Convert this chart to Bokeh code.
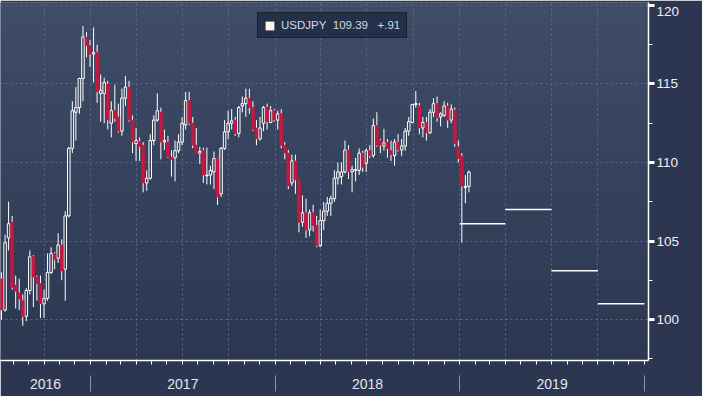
import numpy as np
import pandas as pd
from bokeh.plotting import figure
from bokeh.models import (Range1d, LinearAxis, FixedTicker, SingleIntervalTicker,
                          Grid, Label, Legend, LegendItem)
from bokeh.embed import file_html
from bokeh.resources import INLINE

# ---------------- data ----------------
week_start = pd.date_range("2016-07-04", periods=133, freq="7D")

opens = [102.6, 100.6, 105.2, 106.2, 102.2, 101.7, 101.2, 100.2, 101.85, 104.0,
         102.7, 102.3, 101.0, 101.35, 103.0, 104.2, 103.9, 104.75, 103.2, 106.6,
         110.9, 113.2, 113.5, 115.35, 118.0, 117.45, 116.9, 117.0, 114.4, 114.4,
         115.0, 112.5, 113.3, 112.9, 112.0, 114.1, 114.8, 112.7, 111.2, 111.35,
         111.1, 108.7, 109.0, 111.4, 112.7, 113.2, 111.3, 111.3, 110.35, 110.3,
         110.75, 111.3, 112.4, 113.95, 112.5, 111.1, 110.6, 110.75, 109.15, 109.2,
         109.4, 110.25, 108.0, 110.9, 111.95, 112.5, 112.7, 111.85, 113.6, 113.75,
         114.1, 113.5, 112.2, 111.5, 112.5, 113.5, 112.55, 113.3, 112.7, 113.1,
         111.1, 110.6, 108.7, 110.1, 108.85, 106.2, 106.8, 105.7, 106.8, 106.0,
         104.7, 106.3, 106.9, 107.4, 107.7, 109.0, 109.1, 109.4, 110.8, 109.4,
         109.5, 109.5, 110.6, 109.95, 110.75, 110.45, 112.35, 111.4, 111.05, 111.3,
         110.75, 110.45, 111.3, 110.8, 111.05, 112.0, 112.55, 113.7, 113.6, 112.2,
         112.55, 111.9, 113.2, 113.75, 112.9, 113.0, 113.6, 112.7, 113.35, 111.0,
         110.4, 108.4, 108.48]
highs = [103.0, 105.4, 107.5, 106.6, 102.8, 102.6, 101.6, 102.0, 104.4, 104.1,
         102.8, 102.8, 101.9, 104.2, 104.6, 104.3, 105.5, 105.1, 106.9, 111.0,
         113.9, 114.8, 115.4, 118.7, 118.3, 117.8, 118.6, 117.5, 115.6, 115.4,
         115.2, 113.9, 114.95, 113.75, 114.7, 115.5, 115.2, 113.0, 112.2, 111.6,
         111.3, 109.5, 111.8, 113.0, 114.4, 113.5, 112.1, 111.7, 110.8, 111.4,
         111.8, 112.9, 114.5, 114.5, 112.9, 112.2, 111.0, 110.95, 110.95, 109.8,
         110.7, 110.3, 111.0, 112.7, 113.3, 113.4, 112.9, 113.6, 114.2, 114.7,
         114.7, 113.9, 112.7, 112.9, 113.6, 113.75, 113.6, 113.4, 113.3, 113.4,
         111.3, 110.8, 110.5, 110.5, 108.9, 107.9, 107.7, 107.0, 107.3, 106.6,
         107.0, 107.5, 107.8, 107.9, 109.5, 110.0, 110.0, 111.4, 111.1, 109.8,
         110.3, 110.9, 110.75, 110.9, 111.1, 112.8, 113.2, 111.5, 112.15, 111.5,
         111.4, 111.5, 111.8, 111.5, 112.2, 112.9, 113.7, 114.55, 113.8, 112.9,
         112.9, 113.4, 114.1, 114.2, 113.2, 113.9, 113.8, 113.7, 113.5, 111.4,
         110.6, 109.2, 109.5]
lows = [99.98, 100.5, 104.4, 101.9, 100.7, 100.6, 99.6, 99.9, 101.6, 100.8,
        101.2, 100.1, 100.1, 101.2, 102.9, 103.2, 103.6, 102.5, 101.2, 106.5,
        110.6, 111.4, 113.1, 113.9, 116.7, 116.1, 115.1, 113.8, 112.6, 112.5,
        112.1, 111.6, 112.6, 111.9, 111.7, 113.6, 112.6, 110.6, 110.1, 110.1,
        108.1, 108.2, 108.9, 111.1, 112.6, 110.2, 110.8, 110.3, 109.1, 108.8,
        110.6, 111.1, 112.1, 112.4, 110.9, 110.6, 109.9, 108.7, 108.6, 108.6,
        108.3, 107.3, 107.8, 110.8, 111.5, 112.1, 111.7, 111.6, 113.2, 112.9,
        113.1, 112.0, 111.1, 111.4, 112.0, 112.1, 112.5, 112.6, 112.1, 110.9,
        110.2, 108.3, 108.5, 108.0, 105.55, 105.9, 105.2, 105.3, 105.6, 104.6,
        104.6, 105.7, 106.6, 106.6, 107.5, 108.6, 108.6, 109.3, 108.95, 108.1,
        108.8, 109.2, 109.4, 109.4, 110.3, 110.3, 111.0, 110.6, 110.75, 110.3,
        110.1, 109.8, 110.7, 110.4, 110.75, 111.7, 112.5, 113.5, 111.8, 111.6,
        111.4, 111.8, 112.9, 112.6, 112.3, 112.9, 112.2, 112.5, 111.0, 110.0,
        104.9, 107.4, 108.1]
closes = [100.6, 104.9, 106.1, 102.05, 101.8, 101.3, 100.2, 101.85, 104.0, 102.7,
          102.3, 101.0, 101.35, 103.0, 104.2, 103.8, 104.75, 103.1, 106.6, 110.9,
          113.3, 113.5, 115.35, 118.0, 117.45, 116.9, 117.0, 114.5, 114.6, 115.1,
          112.7, 113.3, 112.8, 112.0, 114.1, 114.8, 112.7, 111.3, 111.4, 111.0,
          108.7, 109.0, 111.4, 112.7, 113.3, 111.3, 111.4, 110.35, 110.2, 110.75,
          111.3, 112.5, 113.95, 112.5, 111.1, 110.6, 110.7, 109.2, 109.2, 109.5,
          110.25, 107.8, 110.9, 111.95, 112.5, 112.65, 111.85, 113.5, 113.75, 114.1,
          113.5, 112.1, 111.5, 112.2, 113.5, 112.6, 113.3, 112.7, 113.1, 111.1,
          110.6, 108.5, 110.1, 108.9, 106.2, 106.8, 105.7, 106.8, 106.0, 104.7,
          106.3, 106.9, 107.4, 107.7, 109.0, 109.4, 109.4, 110.8, 109.4, 109.55,
          109.55, 110.6, 109.7, 110.75, 110.45, 112.35, 111.1, 111.1, 111.25, 110.9,
          110.5, 111.3, 110.8, 111.05, 112.0, 112.6, 113.7, 113.75, 112.2, 112.55,
          111.9, 113.2, 113.75, 112.85, 113.1, 113.6, 112.7, 113.4, 111.2, 110.25,
          108.5, 108.48, 109.39]

fc_start = ["2019-01-01", "2019-04-01", "2019-07-01", "2019-10-01"]
fc_end = ["2019-04-01", "2019-07-01", "2019-10-01", "2020-01-01"]
fc_value = [106.1, 107.0, 103.1, 101.0]

year_labels = ["2016", "2017", "2018", "2019"]
year_starts = ["2016-07-07", "2017-01-01", "2018-01-01", "2019-01-01"]
year_ends = ["2017-01-01", "2018-01-01", "2019-01-01", "2020-01-01"]
quarter_lines = ["2016-10-01", "2017-01-01", "2017-04-01", "2017-07-01", "2017-10-01",
                 "2018-01-01", "2018-04-01", "2018-07-01", "2018-10-01", "2019-01-01",
                 "2019-04-01", "2019-07-01", "2019-10-01"]
month_ticks = pd.date_range("2016-08-01", "2020-01-01", freq="MS")

y_ticks = [100, 105, 110, 115, 120]
y_minor = [97.5, 102.5, 107.5, 112.5, 117.5]

ticker_name = "USDJPY"
last_price = 109.39
last_change = "+.91"

# ---------------- helpers ----------------
DAY = 86400000.0


def ms(d):
    return pd.Timestamp(d).value / 1e6


X0, X1 = ms("2016-07-07"), ms("2020-01-09")
Y0, Y1 = 97.39, 120.19

o = np.array(opens); h = np.array(highs); l = np.array(lows); c = np.array(closes)
xs = np.array([t.value / 1e6 for t in week_start]) + 5 * DAY
top = np.maximum(o, c); bot = np.minimum(o, c)
up = c >= o
dn = ~up

BG_TOP = np.array([64, 77, 104])
BG_BOT = np.array([44, 56, 82])
GRID = "#5a6a88"
RED = "#c8173f"
FONT = "Liberation Sans"
TICK_TEXT = "#eef1f6"

p = figure(width=702, height=396, output_backend="svg", toolbar_location=None,
           x_axis_type=None, y_axis_type=None,
           x_range=Range1d(X0, X1), y_range=Range1d(Y0, Y1),
           min_border_left=0, min_border_top=2, min_border_right=54, min_border_bottom=36,
           background_fill_color="#36425e", border_fill_color="#2c3651",
           outline_line_color=None)

# gradient background
N = 160
img = np.empty((N, 1), dtype=np.uint32)
view = img.view(dtype=np.uint8).reshape((N, 1, 4))
t = np.linspace(0, 1, N)[:, None]
rgb = BG_BOT + (BG_TOP - BG_BOT) * t
view[:, 0, :3] = rgb.astype(np.uint8)
view[:, 0, 3] = 255
p.image_rgba(image=[img], x=X0, y=Y0, dw=X1 - X0, dh=Y1 - Y0, level="image")

# grids
p.add_layout(Grid(dimension=0, ticker=FixedTicker(ticks=[ms(d) for d in quarter_lines]),
                  grid_line_color=GRID, grid_line_dash="2 3", grid_line_width=1))
p.add_layout(Grid(dimension=1, ticker=SingleIntervalTicker(interval=5),
                  grid_line_color=GRID, grid_line_dash="2 3", grid_line_width=1))

# candles: wicks
p.segment(x0=xs, x1=xs, y0=top, y1=h, line_color="white", line_width=1)
p.segment(x0=xs, x1=xs, y0=l, y1=bot, line_color="white", line_width=1)
# up bodies (hollow)
p.quad(left=xs[up] - 2.5 * DAY, right=xs[up] + 2.5 * DAY, top=top[up], bottom=bot[up],
       fill_alpha=0, line_color="white", line_width=1)
# down bodies (filled)
p.quad(left=xs[dn] - 3.0 * DAY, right=xs[dn] + 3.0 * DAY, top=top[dn], bottom=bot[dn],
       fill_color=RED, line_color=RED, line_width=0.5)

# forecasts
p.segment(x0=[ms(d) for d in fc_start], x1=[ms(d) for d in fc_end], y0=fc_value, y1=fc_value,
          line_color="white", line_width=1.5)

# right axis; the top label is pushed below its tick (second line of a two-line label)
yax = LinearAxis(ticker=FixedTicker(ticks=y_ticks, minor_ticks=y_minor),
                 major_label_overrides={y_ticks[-1]: "\n" + str(y_ticks[-1])})
yax.axis_line_color = "white"
yax.axis_line_width = 1.5
yax.major_tick_line_color = "white"
yax.major_tick_line_width = 3
yax.major_tick_out = 6
yax.major_tick_in = 0
yax.minor_tick_line_color = "white"
yax.minor_tick_out = 4
yax.minor_tick_in = 0
yax.major_label_text_color = TICK_TEXT
yax.major_label_text_font = FONT
yax.major_label_text_font_size = "13.5px"
yax.major_label_text_line_height = 0.2
yax.major_label_standoff = 2
p.add_layout(yax, "right")

# bottom axis: month ticks (as minor ticks, no labels)
axA = LinearAxis(ticker=FixedTicker(ticks=[], minor_ticks=[t.value / 1e6 for t in month_ticks]))
axA.axis_line_color = "white"
axA.axis_line_width = 1.5
axA.major_tick_line_color = None
axA.minor_tick_line_color = "white"
axA.minor_tick_out = 4
axA.minor_tick_in = 0
axA.major_label_standoff = 0
p.add_layout(axA, "below")

# bottom axis: year labels
mids = [(ms(a) + ms(b)) / 2 for a, b in zip(year_starts, year_ends)]
axB = LinearAxis(ticker=FixedTicker(ticks=mids),
                 major_label_overrides={m: lab for m, lab in zip(mids, year_labels)})
axB.axis_line_color = None
axB.major_tick_line_color = None
axB.major_tick_out = 0
axB.major_tick_in = 0
axB.major_label_standoff = 14
axB.major_label_text_font = FONT
axB.major_label_text_font_size = "14px"
axB.major_label_text_color = "#e2e7ef"
p.add_layout(axB, "below")

# bottom axis: year separators (as minor ticks pointing up)
axC = LinearAxis(ticker=FixedTicker(ticks=[], minor_ticks=[ms(d) for d in year_ends]))
axC.axis_line_color = None
axC.major_tick_line_color = None
axC.minor_tick_line_color = "#8c95a8"
axC.minor_tick_in = 16
axC.minor_tick_out = 0
axC.major_label_standoff = 0
p.add_layout(axC, "below")

# legend swatch (off-screen sample so that the legend draws it)
sq = p.quad(left=[X0 - 20 * DAY], right=[X0 - 10 * DAY], top=[Y0 - 5], bottom=[Y0 - 6],
            fill_color="#fff5ec", line_color=None)
legend = Legend(items=[LegendItem(label="%s\u00a0\u00a0%.2f\u00a0\u00a0\u00a0%s" % (ticker_name, last_price, last_change),
                                  renderers=[sq])],
                location=(257, 322), orientation="vertical",
                padding=6, margin=0, spacing=0, label_standoff=6,
                glyph_width=11, glyph_height=11, label_height=12,
                border_line_color="#0d1117", border_line_width=1.5,
                background_fill_color="#243047", background_fill_alpha=1,
                label_text_font=FONT, label_text_font_size="11.5px",
                label_text_color="#d3d9e3")
p.add_layout(legend, "center")

# last price tag
p.add_layout(Label(x=X1, y=last_price, x_offset=8, text="%.2f" % last_price, text_color="black",
                   text_font=FONT, text_font_size="13.5px", text_baseline="middle",
                   text_align="left", background_fill_color="#fdf7ee",
                   border_line_color="#1a1a1a", border_line_width=1, padding=2))

open("out.html", "w").write(file_html(p, INLINE))
